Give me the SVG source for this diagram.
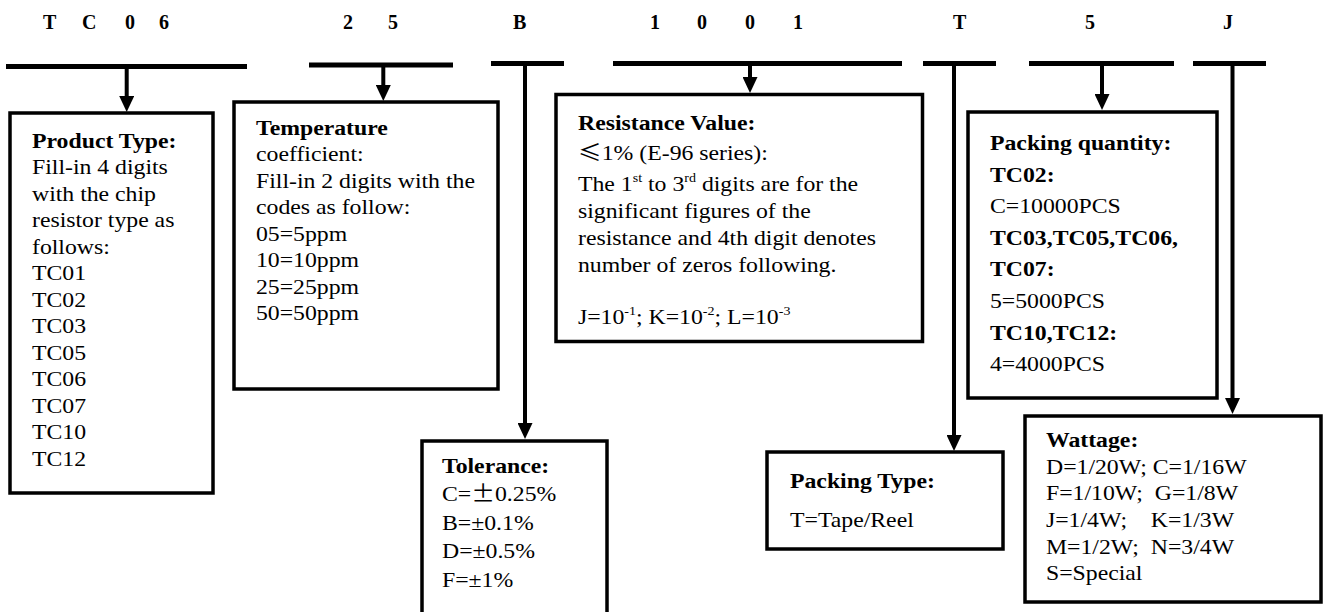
<svg xmlns="http://www.w3.org/2000/svg" width="1323" height="612" viewBox="0 0 1323 612">
<defs>
<marker id="ah" viewBox="0 0 16 15" refX="2" refY="7.5" markerWidth="16" markerHeight="15" orient="auto" markerUnits="userSpaceOnUse">
<path d="M0,0 L16,7.5 L0,15 z" fill="#000"/>
</marker>
</defs>
<style>
text{font-family:"Liberation Serif","Times New Roman",serif;font-size:22px;fill:#000}
.hd{font-size:20px;font-weight:bold}
.b{font-weight:bold}
.box{fill:#fff;stroke:#000;stroke-width:3.5}
.bar{stroke:#000;stroke-width:5}
.con{stroke:#000;stroke-width:4;fill:none;marker-end:url(#ah)}
.sup{font-size:13px}
.cjk{font-family:"Noto Sans CJK SC","Liberation Serif",sans-serif}
</style>
<rect width="1323" height="612" fill="#fff"/>

<g id="header">
<text class="hd" x="43 57 82 96 125 139 159" y="29">T C 0 6</text>
<text class="hd" x="343 357 388" y="29">2 5</text>
<text class="hd" x="513" y="29">B</text>
<text class="hd" x="650 664 697 711 745 759 793" y="29">1 0 0 1</text>
<text class="hd" x="953" y="29">T</text>
<text class="hd" x="1085" y="29">5</text>
<text class="hd" x="1223" y="29">J</text>
</g>

<g id="connectors">
<line class="bar" x1="6" y1="66.5" x2="247" y2="66.5"/>
<line class="bar" x1="309" y1="65" x2="453" y2="65"/>
<line class="bar" x1="491" y1="63.5" x2="564" y2="63.5"/>
<line class="bar" x1="613" y1="63.5" x2="902" y2="63.5"/>
<line class="bar" x1="923" y1="63.5" x2="996" y2="63.5"/>
<line class="bar" x1="1029" y1="63.5" x2="1174" y2="63.5"/>
<line class="bar" x1="1193" y1="63.5" x2="1266" y2="63.5"/>
<line class="con" x1="126.7" y1="66" x2="126.7" y2="98"/>
<line class="con" x1="383.3" y1="65" x2="383.3" y2="87"/>
<line class="con" x1="750" y1="63.5" x2="750" y2="79"/>
<line class="con" x1="525" y1="63.5" x2="525" y2="425"/>
<line class="con" x1="954" y1="63.5" x2="954" y2="437"/>
<line class="con" x1="1102" y1="63.5" x2="1102" y2="96"/>
<line class="con" x1="1232.5" y1="63.5" x2="1232.5" y2="400"/>
</g>

<g id="product-type">
<rect class="box" x="10" y="113" width="203" height="380"/>
<g transform="translate(32 0) scale(1.08 1)">
<text class="b" x="0" y="148">Product Type:</text>
<text x="0" y="174.5">Fill-in 4 digits</text>
<text x="0" y="201">with the chip</text>
<text x="0" y="227.5">resistor type as</text>
<text x="0" y="254">follows:</text>
<text x="0" y="280.5">TC01</text>
<text x="0" y="307">TC02</text>
<text x="0" y="333.5">TC03</text>
<text x="0" y="360">TC05</text>
<text x="0" y="386.5">TC06</text>
<text x="0" y="413">TC07</text>
<text x="0" y="439.5">TC10</text>
<text x="0" y="466">TC12</text>
</g>
</g>

<g id="temperature">
<rect class="box" x="234" y="102" width="264" height="287"/>
<g transform="translate(256 0) scale(1.08 1)">
<text class="b" x="0" y="135">Temperature</text>
<text x="0" y="161.5">coefficient:</text>
<text x="0" y="188">Fill-in 2 digits with the</text>
<text x="0" y="214.5">codes as follow:</text>
<text x="0" y="241">05=5ppm</text>
<text x="0" y="267.5">10=10ppm</text>
<text x="0" y="294">25=25ppm</text>
<text x="0" y="320.5">50=50ppm</text>
</g>
</g>

<g id="resistance">
<rect class="box" x="556" y="94.5" width="366.5" height="247"/>
<g transform="translate(578 0) scale(1.08 1)">
<text class="b" x="0" y="130">Resistance Value:</text>
<text x="0" y="160"><tspan class="cjk">≤</tspan>1% (E-96 series):</text>
<text x="0" y="191.5">The 1<tspan class="sup" dy="-9">st</tspan><tspan dy="9"> to 3</tspan><tspan class="sup" dy="-9">rd</tspan><tspan dy="9"> digits are for the</tspan></text>
<text x="0" y="218.3">significant figures of the</text>
<text x="0" y="245">resistance and 4th digit denotes</text>
<text x="0" y="271.7">number of zeros following.</text>
<text x="0" y="324">J=10<tspan class="sup" dy="-9">-1</tspan><tspan dy="9">; K=10</tspan><tspan class="sup" dy="-9">-2</tspan><tspan dy="9">; L=10</tspan><tspan class="sup" dy="-9">-3</tspan></text>
</g>
</g>

<g id="packing-quantity">
<rect class="box" x="968" y="112" width="249" height="286"/>
<g transform="translate(990 0) scale(1.08 1)">
<text class="b" x="0" y="150">Packing quantity:</text>
<text class="b" x="0" y="181.6">TC02:</text>
<text x="0" y="213.2">C=10000PCS</text>
<text class="b" x="0" y="244.8">TC03,TC05,TC06,</text>
<text class="b" x="0" y="276.4">TC07:</text>
<text x="0" y="308">5=5000PCS</text>
<text class="b" x="0" y="339.6">TC10,TC12:</text>
<text x="0" y="371.2">4=4000PCS</text>
</g>
</g>

<g id="tolerance">
<rect class="box" x="422" y="441" width="185" height="200"/>
<g transform="translate(442 0) scale(1.08 1)">
<text class="b" x="0" y="473">Tolerance:</text>
<text x="0" y="501.5">C=<tspan class="cjk">±</tspan>0.25%</text>
<text x="0" y="530">B=±0.1%</text>
<text x="0" y="558.5">D=±0.5%</text>
<text x="0" y="587">F=±1%</text>
</g>
</g>

<g id="packing-type">
<rect class="box" x="767" y="452" width="236" height="97"/>
<g transform="translate(790 0) scale(1.08 1)">
<text class="b" x="0" y="488">Packing Type:</text>
<text x="0" y="527">T=Tape/Reel</text>
</g>
</g>

<g id="wattage">
<rect class="box" x="1025" y="416" width="296" height="186"/>
<g transform="translate(1046 0) scale(1.08 1)">
<text class="b" x="0" y="447">Wattage:</text>
<text x="0" y="474" xml:space="preserve">D=1/20W; C=1/16W</text>
<text x="0" y="500.5" xml:space="preserve">F=1/10W;  G=1/8W</text>
<text x="0" y="527" xml:space="preserve">J=1/4W;    K=1/3W</text>
<text x="0" y="554" xml:space="preserve">M=1/2W;  N=3/4W</text>
<text x="0" y="580.5">S=Special</text>
</g>
</g>
</svg>
